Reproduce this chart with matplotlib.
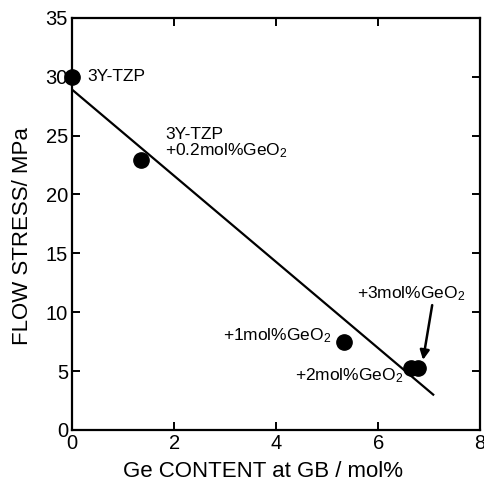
import matplotlib
matplotlib.use("Agg")
import matplotlib.pyplot as plt

plt.rcParams['font.family'] = ['Liberation Sans', 'DejaVu Sans']

# data
ge_content = [0.0, 1.35, 5.33, 6.65, 6.78]
flow_stress = [30.0, 22.9, 7.5, 5.25, 5.25]
fit_x = [0.0, 7.08]
fit_y = [28.9, 3.0]
xticks = [0, 2, 4, 6, 8]
yticks = [0, 5, 10, 15, 20, 25, 30, 35]

fig = plt.figure(figsize=(4.84, 4.82), dpi=100)
ax = fig.add_axes([0.149, 0.108, 0.843, 0.855])

ax.plot(fit_x, fit_y, color='black', lw=1.6, zorder=2)
ax.plot(ge_content, flow_stress, 'o', color='black', ms=11, zorder=3, clip_on=False)

ax.set_xlim(0, 8)
ax.set_ylim(0, 35)
ax.set_xticks(xticks)
ax.set_yticks(yticks)
ax.tick_params(direction='in', top=True, right=True, length=6, width=1.4,
               labelsize=14.5, pad=3)
for s in ax.spines.values():
    s.set_linewidth(1.6)

ax.set_xlabel('Ge CONTENT at GB / mol%', fontsize=16)
ax.xaxis.set_label_coords(0.468, -0.075)
ax.set_ylabel('FLOW STRESS/ MPa', fontsize=16)
ax.yaxis.set_label_coords(-0.097, 0.47)

fs = 12.5
gal = '$\\mathregular{GeO_2}$'
ax.text(0.29, 30.0, '3Y-TZP', fontsize=fs, va='center', ha='left')
ax.text(1.82, 25.7, '3Y-TZP\n+0.2mol%' + gal, fontsize=fs,
        va='top', ha='left', linespacing=0.95)
ax.text(5.08, 8.0, '+1mol%' + gal, fontsize=fs, va='center', ha='right')
ax.text(6.49, 4.6, '+2mol%' + gal, fontsize=fs, va='center', ha='right')
ax.text(5.59, 11.6, '+3mol%' + gal, fontsize=fs, va='center', ha='left')
ax.annotate('', xy=(6.88, 5.95), xytext=(7.06, 10.6),
            arrowprops=dict(arrowstyle='-|>', color='black', lw=1.8,
                            mutation_scale=14, shrinkA=0, shrinkB=0))

fig.savefig('out.png', dpi=100)
